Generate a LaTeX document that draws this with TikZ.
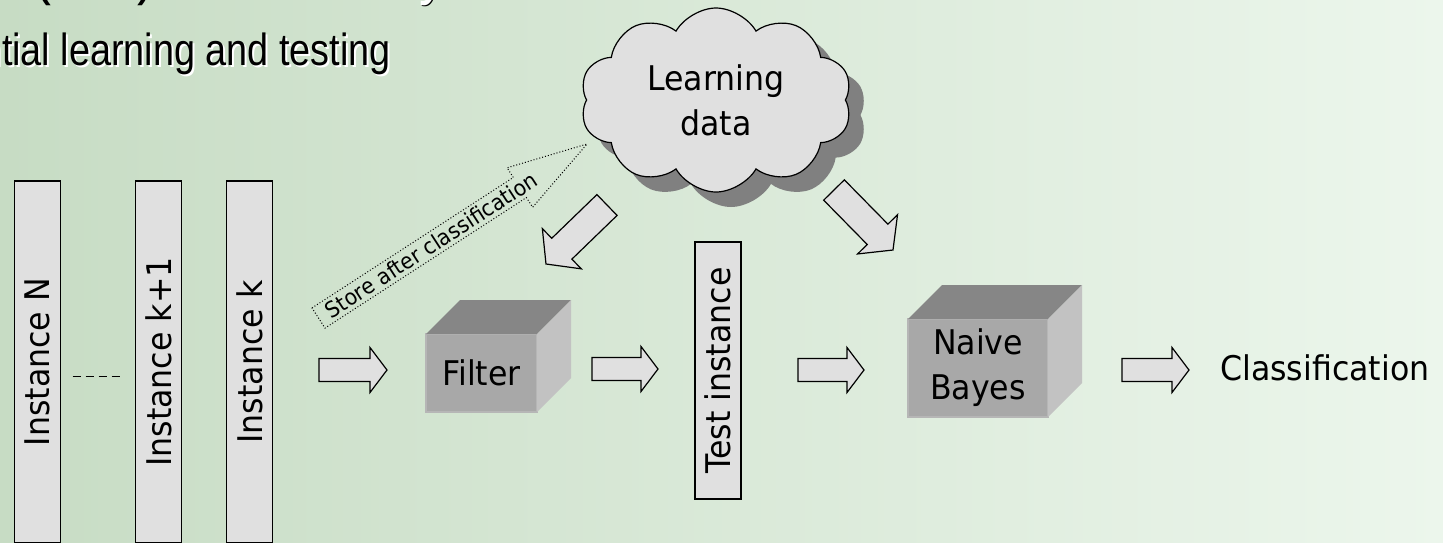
\documentclass[tikz,border=0pt]{standalone}
\usepackage{fontspec}
\setmainfont{DejaVu Sans}
\newfontfamily\diagfont[FakeStretch=0.93]{DejaVu Sans}
\newfontfamily\titlefont[FakeStretch=0.84]{Liberation Sans}
\usetikzlibrary{calc,shapes.symbols,shadows}
\definecolor{bgleft}{RGB}{199,220,196}
\definecolor{bgright}{RGB}{236,246,236}
\definecolor{boxgray}{RGB}{224,224,224}
\definecolor{cubefront}{RGB}{168,168,168}
\definecolor{cubeedge}{RGB}{182,182,182}
\definecolor{cubetop}{RGB}{134,134,134}
\definecolor{cubeside}{RGB}{194,194,194}
\definecolor{shadowgray}{RGB}{128,128,128}
\tikzstyle{big text}=[font=\diagfont\fontsize{34}{45}\selectfont]
\tikzstyle{instance}=[draw=black, line width=1.5pt, fill=boxgray, rotate=90, minimum height=46pt, inner sep=0pt, outer sep=0pt, big text]
\tikzstyle{cube}=[fill=cubefront, draw=cubeedge, line width=1.5pt, inner sep=0pt, outer sep=0pt, align=center, big text]
\tikzstyle{title}=[anchor=base east, inner sep=0pt]
\tikzset{
  % block arrow from start to target: body half width, head half width, head length
  fat arrow/.style n args={3}{draw=black, line width=1.2pt, fill=boxgray,
    to path={($(\tikztostart)!#1!90:(\tikztotarget)$)
      -- ($(\tikztotarget)!#3!(\tikztostart)!#1!90:(\tikztotarget)$)
      -- ($(\tikztotarget)!#3!(\tikztostart)!#2!90:(\tikztotarget)$)
      -- (\tikztotarget)
      -- ($(\tikztotarget)!#3!(\tikztostart)!#2!-90:(\tikztotarget)$)
      -- ($(\tikztotarget)!#3!(\tikztostart)!#1!-90:(\tikztotarget)$)
      -- ($(\tikztostart)!#1!-90:(\tikztotarget)$) -- cycle}}
}

\begin{document}
\begin{tikzpicture}[x=1pt, y=-1pt]
    \shade[left color=bgleft, right color=bgright] (0,0) rectangle (1443,542);
    \useasboundingbox (0,0) rectangle (1443,542);

    % Title lines, cut by the page edge
    \node[title, font=\titlefont\fontsize{64}{70}\selectfont] (head) at (156,-8) {P(A/B)\ };
    \node[title, anchor=base west, font=\titlefont\fontsize{64}{70}\selectfont, black] at (157.5,-6.5) {– Naive Bayes classifier};
    \node[title, anchor=base west, font=\titlefont\fontsize{64}{70}\selectfont, white] (headtail) at (156,-8) {– Naive Bayes classifier};
    \node[title, font=\titlefont\fontsize{45}{50}\selectfont, white] at (393,67) {Sequential learning and testing};
    \node[title, font=\titlefont\fontsize{45}{50}\selectfont] (subtitle) at (391,65) {Sequential learning and testing};

    % Incoming instances
    \foreach \pos/\name/\txt in {{(37.5,362)/instN/Instance N}, {(158.5,362)/instKp/Instance k+1}, {(249.5,362)/instK/Instance k}}
        \node[instance, minimum width=362pt] (\name) at \pos {\txt};
    \draw[line width=1pt, dash pattern=on 8pt off 5pt] ([shift={(12,14)}]instN.south) -- ([shift={(-12,14)}]instKp.north);

    % Learning data
    \node[cloud, cloud puffs=10, cloud puff arc=120, aspect=1.5, draw=black, line width=1.2pt, fill=boxgray,
          minimum width=272pt, minimum height=184pt, align=center, big text,
          drop shadow={shadow xshift=15pt, shadow yshift=-15pt, fill=shadowgray, opacity=1}] (cloud) at (716,100) {Learning\\data};

    % Filter, test instance, classifier
    \node[cube, minimum width=111pt, minimum height=78pt] (filter) at (481.5,373) {Filter};
    \node[instance, minimum width=257pt] (test) at (718,370.5) {Test instance};
    \node[cube, minimum width=140pt, minimum height=98pt] (bayes) at (978,368) {Naive\\Bayes};
    \node[big text, anchor=west, inner sep=0pt] (result) at (1220,368) {Classification};
    \foreach \name in {filter, bayes} {
        \fill[cubetop] (\name.north west) -- ++(34,-34) -- ($(\name.north east)+(34,-34)$) -- (\name.north east) -- cycle;
        \fill[cubeside] (\name.north east) -- ++(34,-34) -- ($(\name.south east)+(34,-34)$) -- (\name.south east) -- cycle;
    }

    % Arrow ends
    \foreach \pos/\name in {{(319,370)/f1}, {(387,370)/t1}, {(592,369)/f2}, {(658,369)/t2}, {(798,370)/f3}, {(864,370)/t3},
                            {(1122,370)/f4}, {(1189,370)/t4}, {(607,205)/c1}, {(546,264)/d1}, {(834,190)/c2}, {(893,250)/d2},
                            {(318.5,318)/s1}, {(587,144)/s2}}
        \path \pos coordinate (\name);

    \foreach \source/\dest in {f1/t1, f2/t2, f3/t3, f4/t4}
        \draw[fat arrow={11.5pt}{22.5pt}{17pt}] (\source) to (\dest);
    \foreach \source/\dest in {c1/d1, c2/d2}
        \draw[fat arrow={14.5pt}{28pt}{22pt}] (\source) to (\dest);

    % Back into the learning data
    \draw[fat arrow={12pt}{23.5pt}{80pt}, fill=none, line width=1pt, dotted] (s1) to (s2);
    \node[rotate=33, inner sep=0pt, font=\diagfont\fontsize{22}{24}\selectfont] (store) at ($(s1)!0.42!(s2)$) {Store after classification};
\end{tikzpicture}
\end{document}
